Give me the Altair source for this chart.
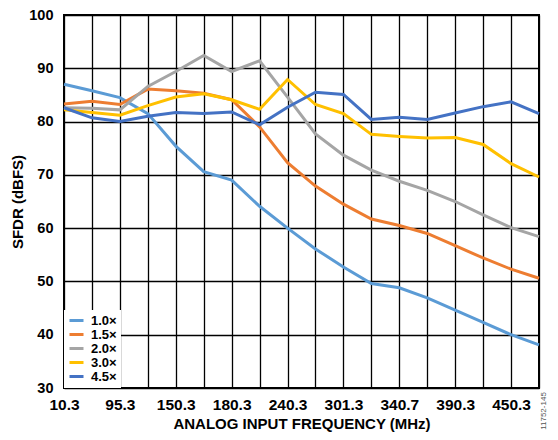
import altair as alt
import pandas as pd

tick_labels = ["10.3", "95.3", "150.3", "180.3", "240.3", "301.3", "340.7", "390.3", "450.3"]
series_names = ["1.0×", "1.5×", "2.0×", "3.0×", "4.5×"]
colors = ["#5B9BD5", "#ED7D31", "#A5A5A5", "#FFC000", "#4472C4"]

s10 = [87.0, 85.8, 84.5, 81.5, 75.4, 70.6, 69.0, 64.1, 60.0, 56.1, 52.7, 49.6, 48.8, 46.9, 44.6, 42.3, 40.0, 38.1]
s15 = [83.3, 83.8, 83.2, 86.1, 85.8, 85.3, 84.1, 79.0, 72.3, 67.9, 64.5, 61.7, 60.5, 59.0, 56.7, 54.4, 52.3, 50.6]
s20 = [82.6, 82.5, 82.2, 86.6, 89.4, 92.4, 89.4, 91.4, 84.6, 77.7, 73.7, 70.9, 68.8, 67.1, 65.0, 62.5, 60.1, 58.4]
s30 = [82.2, 81.7, 81.2, 83.0, 84.6, 85.2, 84.1, 82.3, 87.9, 83.2, 81.5, 77.6, 77.2, 76.9, 77.0, 75.7, 72.1, 69.6]
s45 = [82.6, 80.7, 80.0, 81.0, 81.7, 81.5, 81.8, 79.4, 82.7, 85.5, 85.1, 80.4, 80.8, 80.4, 81.6, 82.8, 83.7, 81.5]

all_series = [s10, s15, s20, s30, s45]
rows = []
for name, vals in zip(series_names, all_series):
    for i, v in enumerate(vals):
        rows.append({"idx": i, "sfdr": v, "series": name})
df = pd.DataFrame(rows)

n = len(s10)
arr = "[" + ",".join("'" + t + "'" for t in tick_labels) + "]"
label_expr = f"datum.value % 2 == 0 ? {arr}[datum.value / 2] : ''"

FONT = "Liberation Sans"

lines = alt.Chart(df).mark_line(strokeWidth=3).encode(
    x=alt.X("idx:Q",
            scale=alt.Scale(domain=[0, n - 1], nice=False, zero=False),
            axis=alt.Axis(values=list(range(n)), labelExpr=label_expr,
                          title="ANALOG INPUT FREQUENCY (MHz)",
                          grid=True, ticks=False, domain=False,
                          labelFontSize=15.5, labelPadding=9, titlePadding=4,
                          labelFlush=False)),
    y=alt.Y("sfdr:Q",
            scale=alt.Scale(domain=[30, 100], nice=False, zero=False),
            axis=alt.Axis(values=list(range(30, 101, 10)), title="SFDR (dBFS)",
                          grid=True, ticks=False, domain=False,
                          labelFontSize=14.5, labelPadding=11, titlePadding=3)),
    color=alt.Color("series:N",
                    scale=alt.Scale(domain=series_names, range=colors),
                    sort=series_names,
                    legend=alt.Legend(title=None, orient="bottom-left",
                                      offset=0, fillColor="white",
                                      symbolType="stroke", symbolStrokeWidth=3,
                                      symbolSize=196, rowPadding=0, clipHeight=13,
                                      labelFontSize=13, labelFont=FONT,
                                      labelFontWeight="bold", labelColor="black",
                                      padding=4, labelOffset=6)),
    order=alt.Order("series:N"),
)

watermark = alt.Chart(pd.DataFrame({"t": ["11752-145"]})).mark_text(
    angle=270, fontSize=8, font=FONT, color="#555555", align="center", baseline="middle"
).encode(text="t:N", x=alt.value(480), y=alt.value(396))

chart = alt.layer(lines, watermark).properties(
    width=475, height=373,
    padding={"left": 56, "top": 7, "right": 11, "bottom": 44},
    autosize=alt.AutoSizeParams(type="none"),
).configure_view(
    stroke="black", strokeWidth=2
).configure_axis(
    gridColor="black", gridWidth=1.3, gridOpacity=1,
    labelFont=FONT, labelFontWeight="bold", labelColor="black",
    titleFont=FONT, titleFontSize=15, titleFontWeight="bold", titleColor="black",
)

chart.save("out.html", embed_options={"renderer": "svg", "actions": False})
